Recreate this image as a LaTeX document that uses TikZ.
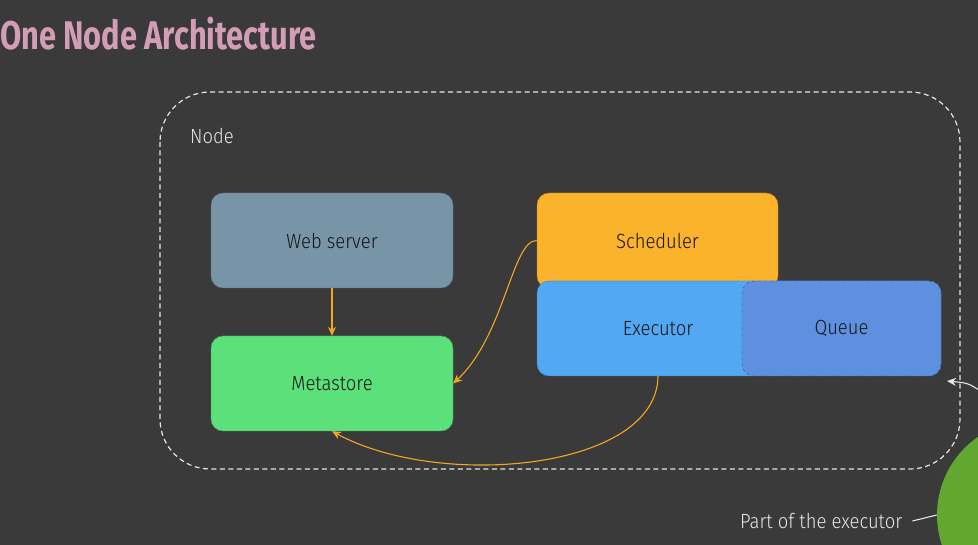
\documentclass[tikz,border=0pt]{standalone}
\usepackage{fontspec}
\setmainfont{Fira Sans}[UprightFont=* Light, FakeStretch=0.9]
\newfontfamily\titlefont{Fira Sans}[UprightFont=* Bold, FakeStretch=0.77]
\usetikzlibrary{arrows.meta}
\definecolor{bg}{HTML}{3A3A3A}
\definecolor{titlepink}{HTML}{D39DB5}
\definecolor{webc}{HTML}{7895A8}
\definecolor{metac}{HTML}{5CE07A}
\definecolor{schedc}{HTML}{FBB32B}
\definecolor{execc}{HTML}{52A8F2}
\definecolor{queuec}{HTML}{5F90E0}
\definecolor{arrowc}{HTML}{F5A623}
\definecolor{dashc}{HTML}{E6E6E6}
\definecolor{greenc}{HTML}{62A830}
\begin{document}
\begin{tikzpicture}[x=1pt,y=-1pt,
  compbox/.style={rounded corners=12pt, inner sep=0pt, font=\fontsize{20.5}{24}\selectfont, text=black!92},
  flow/.style={draw=arrowc, line width=1.1pt, -{Stealth[length=9pt,width=8pt]}},
  whitetxt/.style={text=dashc, font=\fontsize{20.5}{24}\selectfont, inner sep=0pt}]
\useasboundingbox (0,0) rectangle (978,545);
\clip (0,0) rectangle (978,545);
\fill[bg] (0,0) rectangle (978,545);
\node[anchor=west, inner sep=0pt, text=titlepink, font=\titlefont\fontsize{40}{44}\selectfont] (title) at (0,34) {One Node Architecture};
\draw[dashc, line width=1.2pt, dash pattern=on 5pt off 3.5pt, rounded corners=50pt] (160,92) rectangle (960,469);
\node[whitetxt, anchor=west] (nodelbl) at (190,136) {Node};
\node[compbox, fill=webc, draw=webc!75!black, minimum width=242pt, minimum height=95pt] (web) at (332,240.5) {Web server};
\node[compbox, fill=metac, draw=metac!75!black, minimum width=242pt, minimum height=95pt] (meta) at (332,383.5) {Metastore};
\node[compbox, fill=schedc, draw=schedc!75!black, minimum width=241pt, minimum height=95pt] (sched) at (657.5,240.5) {Scheduler};
\node[compbox, fill=execc, draw=execc!75!black, minimum width=404pt, minimum height=95pt] (exec) at (739,328.5) {};
\node[compbox, anchor=center] (exectxt) at (658,329) {Executor};
\node[compbox, fill=queuec, draw=queuec!55!black, dashed, minimum width=199pt, minimum height=95pt] (queue) at (841.5,328.5) {Queue};
\draw[flow] (web.south) -- (meta.north);
\draw[flow] (sched.west) .. controls (512,240) and (505,335) .. (meta.east);
\draw[flow] (exec.south -| exectxt) .. controls (657,470) and (440,490) .. (meta.south);
\node[circle, fill=greenc, minimum size=190pt, inner sep=0pt] (circ) at (1032,515) {};
\node[whitetxt, anchor=west] (partlbl) at (740,521) {Part of the executor};
\draw[dashc, line width=1.1pt] ([xshift=10pt]partlbl.east) -- (circ.west);
\coordinate (wstart) at (982,392);
\coordinate (wend) at (947,381);
\draw[dashc, line width=1.1pt, -{Stealth[length=9pt,width=8pt]}] (wstart) .. controls (968,383) .. (wend);
\end{tikzpicture}
\end{document}
